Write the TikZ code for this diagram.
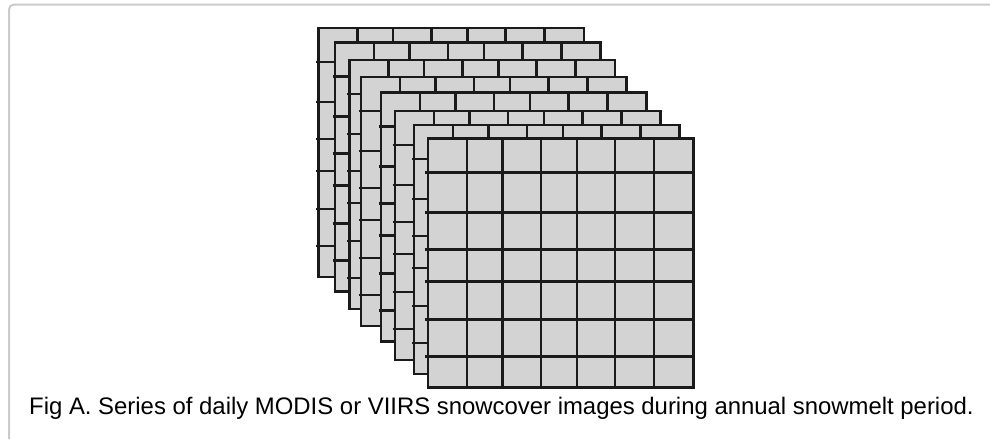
\documentclass[tikz,border=0pt]{standalone}
\usepackage{fontspec}
\setmainfont{Liberation Sans}
\definecolor{framegrey}{HTML}{CBCBCB}
\definecolor{cellgrey}{HTML}{D3D3D3}
\definecolor{gridline}{HTML}{1A1A1A}
\tikzset{
  cellfill/.style={fill=cellgrey},
  gridstroke/.style={draw=gridline, line width=2.4pt},
  framestroke/.style={draw=framegrey, line width=2pt, rounded corners=5pt},
  captiontext/.style={inner sep=0pt, font=\fontsize{23.9}{28}\selectfont}
}
\begin{document}
\begin{tikzpicture}[x=1pt, y=-1pt]
\useasboundingbox (0,0) rectangle (990,439);
% outer panel frame (only top and left edges fall inside the page)
\draw[framestroke] (9,439) -- (9,4.5) -- (990,4.5);
% stack of image layers, drawn back to front
\def\lw{265.6}
\def\lh{249}
\foreach \lx/\ly in {318.3/27.7, 335/42.3, 349.3/60, 361/77, 381/92.3, 395/111, 414/125, 427.7/138.3} {
  \fill[cellfill] (\lx,\ly) rectangle ++(\lw,\lh);
  \foreach \c in {39,74.6,113,149,187.3,226.3}
    \draw[gridstroke] (\lx+\c,\ly) -- ++(0,\lh);
  \foreach \r in {34,74,111,143,181,218}
    \draw[gridstroke] (\lx-2.5,\ly+\r) -- (\lx+\lw,\ly+\r);
  \draw[gridstroke] (\lx,\ly) rectangle ++(\lw,\lh);
}
\node[captiontext, anchor=base west] (caption) at (29,414)
  {Fig A. Series of daily MODIS or VIIRS snowcover images during annual snowmelt period.};
\end{tikzpicture}
\end{document}
